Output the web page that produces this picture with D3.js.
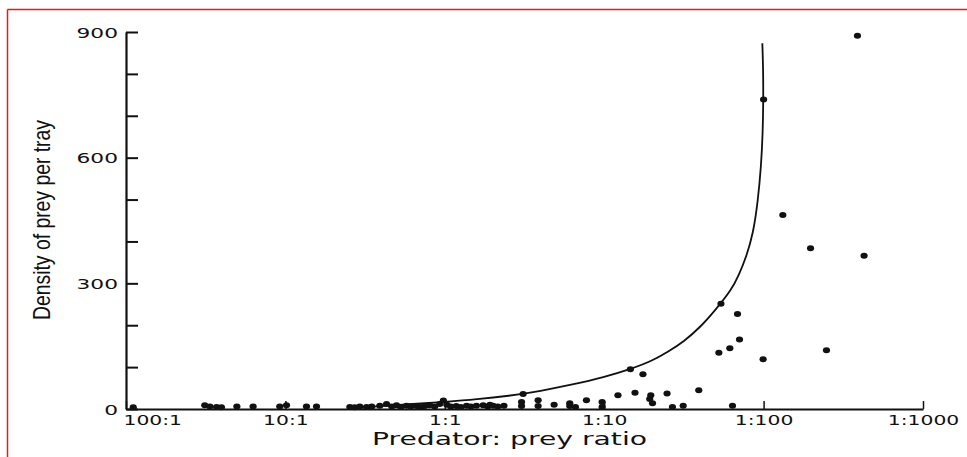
<!DOCTYPE html>
<html>
<head>
<meta charset="utf-8">
<script src="https://cdn.jsdelivr.net/npm/d3@7"></script>
<style>
  html, body { margin: 0; padding: 0; background: #fff; }
  svg { display: block; }
</style>
</head>
<body>
<div id="chart"></div>
<script>
// ---- data (prey per predator, i.e. 1:r ; density of prey per tray) ----
const pointRatio = [
  0.0111, 0.0312, 0.0336, 0.037, 0.0397, 0.0496, 0.0627, 0.0922, 0.1016, 0.1356,
  0.1567, 0.2536, 0.272, 0.293, 0.323, 0.348, 0.391, 0.431, 0.465, 0.498,
  0.53, 0.575, 0.612, 0.664, 0.707, 0.749, 0.805, 0.865, 0.93, 0.98,
  1.03, 1.09, 1.18, 1.26, 1.37, 1.46, 1.58, 1.74, 1.86, 1.92,
  2.01, 2.15, 2.35,
  3.03, 3.03, 3.1, 3.85, 3.85, 4.85, 6.08, 6.08, 6.6, 7.74,
  9.7, 9.7, 12.2, 14.6, 15.6, 17.5, 19.3, 19.6, 20.1, 24.8,
  26.8, 31.3, 39.2, 52.4, 54, 61.4, 63.8, 68.6, 70.6, 99.3,
  100, 132, 197, 248, 388, 427
];
const pointDensity = [
  4, 9, 6, 5, 4, 6, 6, 6, 9, 6,
  6, 5, 4, 6, 5, 6, 8, 12, 6, 9,
  5, 8, 6, 7, 5, 7, 9, 6, 12, 20,
  10, 6, 7, 5, 8, 6, 8, 9, 6, 10,
  8, 6, 8,
  17, 7, 36, 21, 7, 10, 14, 7, 5, 21,
  17, 5, 33, 95, 39, 83, 24, 33, 14, 37,
  5, 8, 45, 134, 251, 145, 8, 227, 166, 119,
  739, 463, 384, 140, 891, 366
];
const curveRatio   = [0.25, 0.4, 0.63, 1, 1.6, 2.5, 4, 6.3, 10, 14.6, 20, 25, 31.6, 40, 50, 63, 70, 78, 86, 92, 96.5, 98.8, 99.6, 99.4, 98.2];
const curveDensity = [1, 7, 12, 17, 23, 31, 43, 58, 76, 95, 115, 136, 161, 195, 237, 285, 320, 364, 419, 495, 580, 660, 738, 810, 873];

const yTickValues = [0, 100, 200, 300, 400, 500, 600, 700, 800, 900];
const yTickLabels = ["0", "", "", "300", "", "", "600", "", "", "900"];
const xTickValues = [0.01, 0.1, 1, 10, 100, 1000];
const xTickLabels = ["100:1", "10:1", "1:1", "1:10", "1:100", "1:1000"];

const xTitle = "Predator: prey ratio";
const yTitle = "Density of prey per tray";

// ---- drawing ----
const W = 967, H = 457;
const svg = d3.select("#chart").append("svg").attr("width", W).attr("height", H);

// red frame
svg.append("line").attr("x1", 7.5).attr("x2", 7.5).attr("y1", 9.5).attr("y2", H)
  .attr("stroke", "#e31b1b").attr("stroke-width", 1.5);
svg.append("line").attr("x1", 7.5).attr("x2", W).attr("y1", 9.5).attr("y2", 9.5)
  .attr("stroke", "#e31b1b").attr("stroke-width", 1.5);

const x = d3.scaleLog().domain([0.01, 1000]).range([126, 923]);
const y = d3.scaleLinear().domain([0, 900]).range([409, 32]);

const tickFont = "'DejaVu Sans', Verdana, sans-serif";

// y axis
const yAxis = d3.axisLeft(y)
  .tickValues(yTickValues)
  .tickFormat((d, i) => yTickLabels[i])
  .tickSizeInner(-12).tickSizeOuter(0).tickPadding(8);
const gy = svg.append("g").attr("transform", "translate(126,0)").call(yAxis);
gy.select(".domain").attr("stroke", "#111").attr("stroke-width", 2.2);
gy.selectAll(".tick line").attr("stroke", "#111").attr("stroke-width", 2);
gy.selectAll(".tick text")
  .attr("font-family", tickFont).attr("font-size", 14).attr("fill", "#111")
  .attr("dy", "0.36em")
  .each(function () {
    const len = this.getComputedTextLength();
    if (len > 0) d3.select(this).attr("textLength", len * 1.55).attr("lengthAdjust", "spacingAndGlyphs");
  });

// x axis
const xAxis = d3.axisBottom(x)
  .tickValues(xTickValues)
  .tickFormat((d, i) => xTickLabels[i])
  .tickSizeInner(-8).tickSizeOuter(0).tickPadding(6);
const gx = svg.append("g").attr("transform", "translate(0,409)").call(xAxis);
gx.select(".domain").attr("stroke", "#111").attr("stroke-width", 2);
gx.selectAll(".tick line").attr("stroke", "#111").attr("stroke-width", 1.5);
gx.selectAll(".tick text")
  .attr("font-family", tickFont).attr("font-size", 14).attr("fill", "#111")
  .each(function (d, i) {
    const len = this.getComputedTextLength();
    const t = d3.select(this).attr("textLength", len * 1.45).attr("lengthAdjust", "spacingAndGlyphs");
    if (i === 0) t.attr("text-anchor", "start").attr("x", -3);
  });

// fitted curve
const line = d3.line()
  .x((d, i) => x(curveRatio[i]))
  .y((d, i) => y(curveDensity[i]))
  .curve(d3.curveBasis);
svg.append("path")
  .attr("d", line(curveRatio))
  .attr("fill", "none").attr("stroke", "#111").attr("stroke-width", 1.8);

// points
svg.append("g").selectAll("ellipse")
  .data(pointRatio)
  .join("ellipse")
  .attr("cx", (d) => x(d))
  .attr("cy", (d, i) => y(pointDensity[i]))
  .attr("rx", 3.6).attr("ry", 3.0)
  .attr("fill", "#111");

// titles
svg.append("text")
  .attr("x", 509.5).attr("y", 445)
  .attr("text-anchor", "middle")
  .attr("font-family", tickFont).attr("font-size", 18).attr("fill", "#111")
  .attr("textLength", 275).attr("lengthAdjust", "spacingAndGlyphs")
  .text(xTitle);

svg.append("text")
  .attr("transform", "translate(50,220) rotate(-90)")
  .attr("text-anchor", "middle")
  .attr("font-family", "'Liberation Sans Narrow', 'Liberation Sans', Arial, sans-serif")
  .attr("font-size", 24).attr("fill", "#111")
  .attr("textLength", 200).attr("lengthAdjust", "spacingAndGlyphs")
  .text(yTitle);
</script>
</body>
</html>
